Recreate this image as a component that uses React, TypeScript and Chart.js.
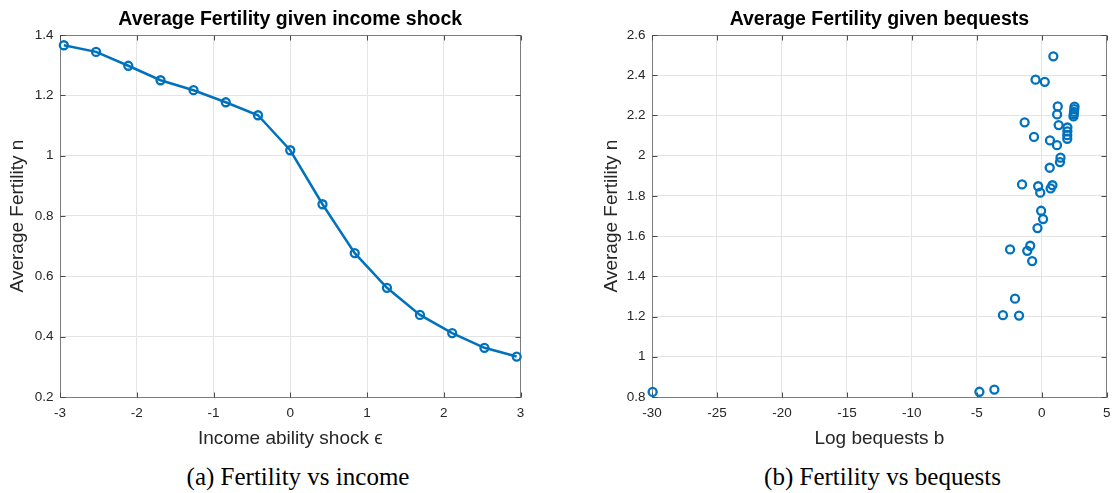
import React, { useEffect, useRef } from "react";
import { Chart, registerables } from "chart.js";

Chart.register(...registerables);

// ---- data ----
const incomeShock = [-2.95, -2.53, -2.11, -1.69, -1.26, -0.84, -0.42, 0, 0.42, 0.84, 1.26, 1.69, 2.11, 2.53, 2.95];
const fertilityByIncome = [1.366, 1.344, 1.298, 1.25, 1.217, 1.177, 1.134, 1.018, 0.839, 0.677, 0.562, 0.472, 0.412, 0.363, 0.334];

const logBequests = [
  -29.95, -4.8, -3.65, -2.99, -1.75, -2.06, -2.44, -1.12, -0.89, -0.74,
  -0.33, 0.1, -0.05, -1.52, -0.28, -0.12, 0.68, 0.82, 0.61, 1.4,
  1.44, 0.63, 1.17, -0.6, -1.32, 1.3, 1.18, 1.23, 1.96, 1.96,
  1.97, 1.97, 2.44, 2.46, 2.48, 2.5, 2.52, -0.48, 0.23, 0.89,
];
const fertilityByBequests = [
  0.825, 0.826, 0.837, 1.207, 1.205, 1.289, 1.534, 1.527, 1.552, 1.476,
  1.64, 1.685, 1.726, 1.857, 1.848, 1.816, 1.837, 1.853, 1.94, 1.968,
  1.99, 2.076, 2.052, 2.093, 2.166, 2.152, 2.205, 2.245, 2.084, 2.102,
  2.121, 2.14, 2.195, 2.206, 2.218, 2.231, 2.244, 2.378, 2.367, 2.494,
];

const incomeXTicks = [-3, -2, -1, 0, 1, 2, 3];
const incomeYTicks = [0.2, 0.4, 0.6, 0.8, 1, 1.2, 1.4];
const bequestXTicks = [-30, -25, -20, -15, -10, -5, 0, 5];
const bequestYTicks = [0.8, 1, 1.2, 1.4, 1.6, 1.8, 2, 2.2, 2.4, 2.6];

// ---- styling ----
const BLUE = "#0072BD";
const SANS = '"Liberation Sans", Arial, Helvetica, sans-serif';
const SERIF = '"Liberation Serif", "Times New Roman", Times, serif';
const TEXT = "#262626";

// Closed axes box with inward tick marks on all four sides
const axesBox = {
  id: "axesBox",
  beforeDatasetsDraw(chart: any) {
    const { ctx, chartArea: a, scales } = chart;
    const L = Math.floor(a.left) + 0.5;
    const R = Math.floor(a.right) + 0.5;
    const T = Math.floor(a.top) + 0.5;
    const B = Math.floor(a.bottom) + 0.5;
    const len = 5;
    ctx.save();
    ctx.lineWidth = 1;
    ctx.strokeStyle = "#7d7d7d";
    ctx.strokeRect(L, T, R - L, B - T);
    ctx.strokeStyle = "#4a4a4a";
    ctx.beginPath();
    for (const t of scales.x.ticks) {
      const px = Math.round(scales.x.getPixelForValue(t.value)) + 0.5;
      ctx.moveTo(px, B);
      ctx.lineTo(px, B - len);
      ctx.moveTo(px, T);
      ctx.lineTo(px, T + len);
    }
    for (const t of scales.y.ticks) {
      const py = Math.round(scales.y.getPixelForValue(t.value)) + 0.5;
      ctx.moveTo(L, py);
      ctx.lineTo(L + len, py);
      ctx.moveTo(R, py);
      ctx.lineTo(R - len, py);
    }
    ctx.stroke();
    ctx.restore();
  },
};

const fmt = (v: any) => String(Math.round(Number(v) * 100) / 100);

type Panel = {
  left: number;
  width: number;
  height: number;
  yAxisWidth: number;
  padRight: number;
  yTitlePad: number;
  title: string;
  xTitle: string;
  yTitle: string;
  xMin: number;
  xMax: number;
  yMin: number;
  yMax: number;
  xTicks: number[];
  yTicks: number[];
  type: "line" | "scatter";
  points: { x: number; y: number }[];
};

function buildConfig(p: Panel): any {
  const tickFont = { family: SANS, size: 13.5 };
  const axisTitleFont = { family: SANS, size: 19, lineHeight: 1.2 };
  const grid = { color: "#e4e4e4", lineWidth: 1, drawTicks: false };
  return {
    type: p.type,
    data: {
      datasets: [
        {
          data: p.points,
          borderColor: BLUE,
          backgroundColor: "rgba(0,0,0,0)",
          borderWidth: 2.5,
          showLine: p.type === "line",
          tension: 0,
          pointStyle: "circle",
          pointRadius: 4,
          pointBorderWidth: 2.3,
          pointBorderColor: BLUE,
          pointBackgroundColor: "rgba(0,0,0,0)",
          clip: false,
        },
      ],
    },
    options: {
      animation: false,
      responsive: false,
      devicePixelRatio: 1,
      layout: { padding: { left: 0, right: p.padRight, top: 0, bottom: 0 } },
      plugins: {
        legend: { display: false },
        tooltip: { enabled: false },
        title: {
          display: true,
          text: p.title,
          fullSize: false,
          color: "#000",
          font: { family: SANS, size: 19.5, weight: "bold", lineHeight: 1.2 },
          padding: { top: 8.3, bottom: 3.3 },
        },
      },
      scales: {
        x: {
          type: "linear",
          min: p.xMin,
          max: p.xMax,
          grid,
          border: { display: false },
          afterBuildTicks: (axis: any) => {
            axis.ticks = p.xTicks.map((v) => ({ value: v }));
          },
          afterFit: (axis: any) => {
            axis.height = 53;
          },
          ticks: { color: TEXT, font: tickFont, padding: 8.5, maxRotation: 0, callback: fmt },
          title: { display: true, text: p.xTitle, color: TEXT, font: axisTitleFont, padding: { top: 0, bottom: 0 } },
        },
        y: {
          type: "linear",
          min: p.yMin,
          max: p.yMax,
          grid,
          border: { display: false },
          afterBuildTicks: (axis: any) => {
            axis.ticks = p.yTicks.map((v) => ({ value: v }));
          },
          afterFit: (axis: any) => {
            axis.width = p.yAxisWidth;
          },
          ticks: { color: TEXT, font: tickFont, padding: 6.5, callback: fmt },
          title: { display: true, text: p.yTitle, color: TEXT, font: axisTitleFont, padding: { top: p.yTitlePad, bottom: 0 } },
        },
      },
    },
    plugins: [axesBox],
  };
}

const incomePanel: Panel = {
  left: 0,
  width: 540,
  height: 450,
  yAxisWidth: 60,
  padRight: 19.5,
  yTitlePad: 6.1,
  title: "Average Fertility given income shock",
  xTitle: "Income ability shock \u03F5",
  yTitle: "Average Fertility n",
  xMin: -3,
  xMax: 3,
  yMin: 0.2,
  yMax: 1.4,
  xTicks: incomeXTicks,
  yTicks: incomeYTicks,
  type: "line",
  points: incomeShock.map((x, i) => ({ x, y: fertilityByIncome[i] })),
};

const bequestPanel: Panel = {
  left: 592,
  width: 527,
  height: 450,
  yAxisWidth: 60,
  padRight: 5.5,
  yTitlePad: 8.6,
  title: "Average Fertility given bequests",
  xTitle: "Log bequests b",
  yTitle: "Average Fertility n",
  xMin: -30,
  xMax: 5,
  yMin: 0.8,
  yMax: 2.6,
  xTicks: bequestXTicks,
  yTicks: bequestYTicks,
  type: "scatter",
  points: logBequests.map((x, i) => ({ x, y: fertilityByBequests[i] })),
};

function PanelChart({ panel }: { panel: Panel }) {
  const ref = useRef<HTMLCanvasElement | null>(null);
  useEffect(() => {
    if (!ref.current) return;
    const chart = new Chart(ref.current, buildConfig(panel));
    return () => chart.destroy();
  }, [panel]);
  return (
    <canvas
      ref={ref}
      width={panel.width}
      height={panel.height}
      style={{ position: "absolute", left: panel.left, top: 0, width: panel.width, height: panel.height }}
    />
  );
}

const captionStyle: React.CSSProperties = {
  position: "absolute",
  top: 464,
  width: 400,
  textAlign: "center",
  fontFamily: SERIF,
  fontSize: 25,
  lineHeight: "25px",
  color: "#000",
  whiteSpace: "nowrap",
};

export default function App() {
  return (
    <div style={{ position: "absolute", left: 0, top: 0, width: 1119, height: 493, background: "#fff", overflow: "hidden" }}>
      <PanelChart panel={incomePanel} />
      <PanelChart panel={bequestPanel} />
      <div style={{ ...captionStyle, left: 298 - 200 }}>(a) Fertility vs income</div>
      <div style={{ ...captionStyle, left: 882.5 - 200 }}>(b) Fertility vs bequests</div>
    </div>
  );
}
